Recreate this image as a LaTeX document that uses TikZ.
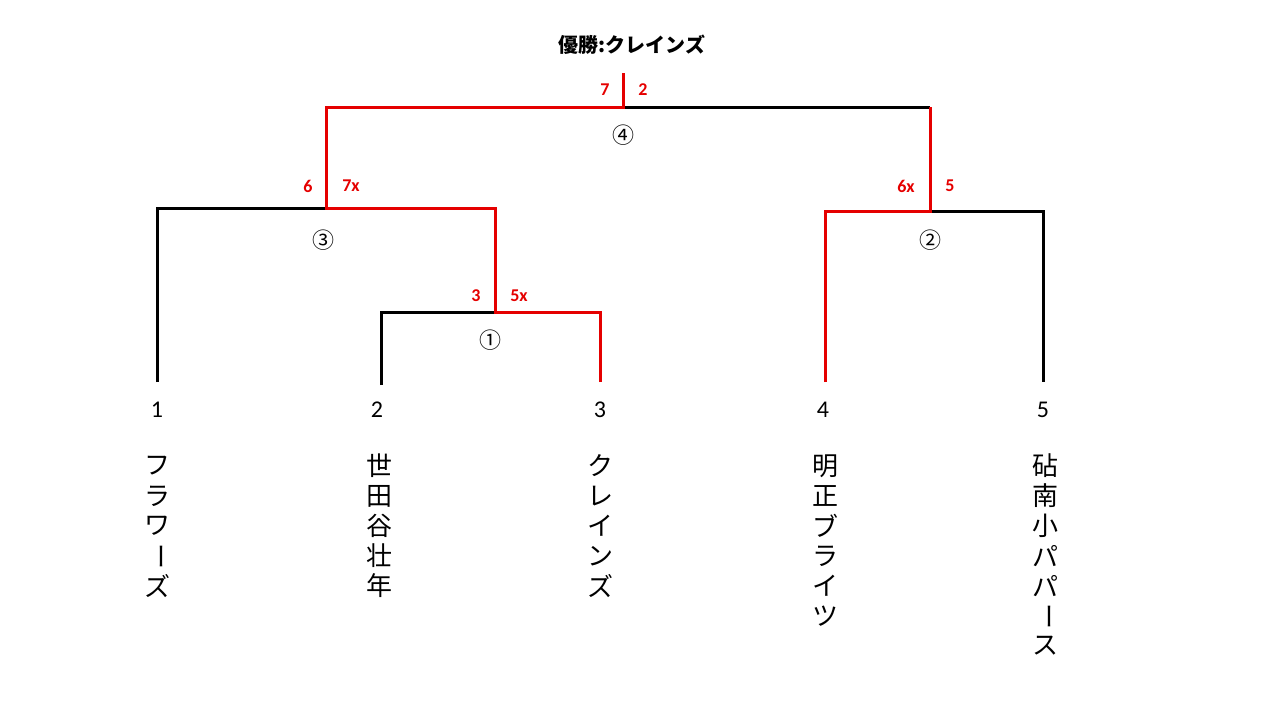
\documentclass[tikz,border=0pt]{standalone}
\usepackage{fontspec}
\setmainfont{Noto Sans CJK JP}
\newfontfamily\lat{Carlito}
\begin{document}
\begin{tikzpicture}[x=1pt,y=-1pt,
  bk/.style={line width=3pt,black},
  rd/.style={line width=3pt,red!90!black},
  sc/.style={font=\lat\fontsize{18}{18}\selectfont\bfseries,text=red!90!black},
  ci/.style={font=\fontsize{22}{22}\selectfont},
  num/.style={font=\lat\fontsize{24}{24}\selectfont},
  ch/.style={font=\fontsize{26}{26}\selectfont,inner sep=0pt}]
\useasboundingbox (0,0) rectangle (1280,720);
% coordinates
\coordinate (t1) at (157,382); \coordinate (t1a) at (157,208);
\coordinate (t2) at (381,385); \coordinate (t2a) at (381,312);
\coordinate (t3) at (600,382); \coordinate (t3a) at (600,312);
\coordinate (t4) at (825,382); \coordinate (t4a) at (825,211);
\coordinate (t5) at (1043,382); \coordinate (t5a) at (1043,211);
\coordinate (m1) at (495,312); \coordinate (m1a) at (495,208);
\coordinate (m3) at (326,208); \coordinate (m3a) at (326,107);
\coordinate (m2) at (930,211); \coordinate (m2a) at (930,107);
\coordinate (m4) at (623,107); \coordinate (m4a) at (623,73);
% black
\draw[bk] (t1) -- (t1a) -- (m3);
\draw[bk] (t2) -- (t2a) -- (m1);
\draw[bk] (m4) -- (m2a);
\draw[bk] (m2) -- (t5a) -- (t5);
% red
\draw[rd] (t3) -- (t3a) -- (m1) -- (m1a) -- (m3) -- (m3a) -- (m4) -- (m4a);
\draw[rd] (t4) -- (t4a) -- (m2) -- (m2a);
% title
\node[font=\fontsize{20}{20}\selectfont\bfseries] (title) at (632,45) {優勝:クレインズ};
% scores
\node[sc] (s1) at (605,90) {7}; \node[sc] (s2) at (643,90) {2};
\node[sc] (s3) at (308,186) {6}; \node[sc] (s4) at (351,186) {7x};
\node[sc] (s5) at (476,296) {3}; \node[sc] (s6) at (519,296) {5x};
\node[sc] (s7) at (906,186) {6x}; \node[sc] (s8) at (950,186) {5};
% circled
\node[ci] (c4) at (623,135) {④}; \node[ci] (c3) at (323,240) {③};
\node[ci] (c1) at (490,340) {①}; \node[ci] (c2) at (930,240) {②};
% numbers
\foreach \x/\n in {157/1,377/2,600/3,823/4,1043/5}
  \node[num] (n\n) at (\x,410) {\n};
% names
\newcommand\vlong{\rotatebox[origin=c]{-90}{ー}}
\foreach \c [count=\i] in {フ,ラ,ワ,\vlong,ズ}
  \node[ch] (a\i) at (157,436+\i*30) {\c};
\foreach \c [count=\i] in {世,田,谷,壮,年}
  \node[ch] (b\i) at (379,436+\i*30) {\c};
\foreach \c [count=\i] in {ク,レ,イ,ン,ズ}
  \node[ch] (d\i) at (600,436+\i*30) {\c};
\foreach \c [count=\i] in {明,正,ブ,ラ,イ,ツ}
  \node[ch] (e\i) at (825,436+\i*30) {\c};
\foreach \c [count=\i] in {砧,南,小,パ,パ,\vlong,ス}
  \node[ch] (f\i) at (1045,436+\i*30) {\c};
\end{tikzpicture}
\end{document}
